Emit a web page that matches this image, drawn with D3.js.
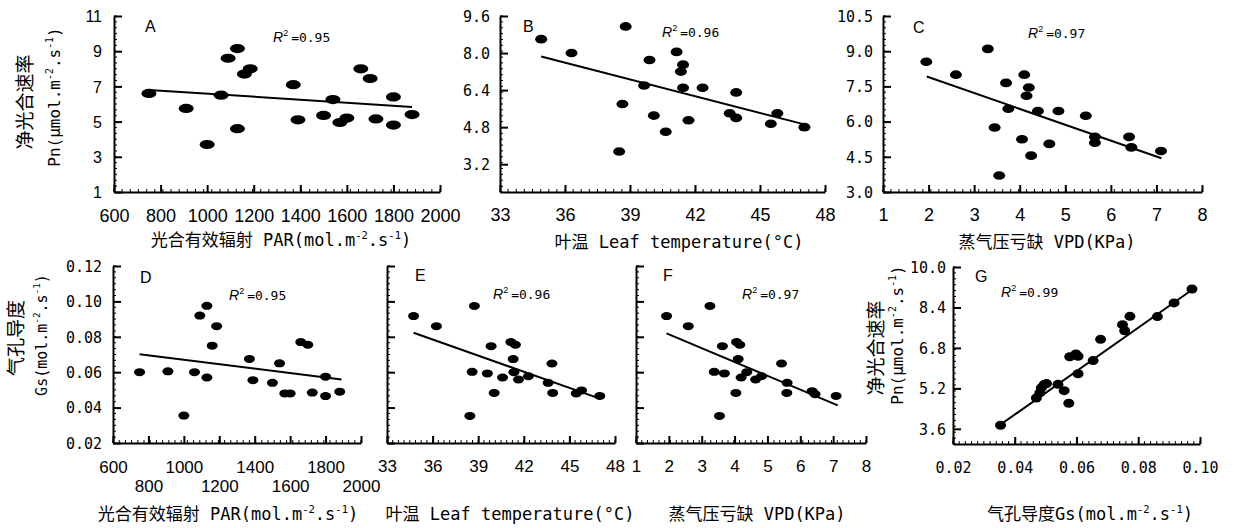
<!DOCTYPE html>
<html>
<head>
<meta charset="utf-8">
<script src="https://cdn.jsdelivr.net/npm/d3@7"></script>
<style>
  body { margin: 0; background: #fff; }
  text { fill: #000; }
</style>
</head>
<body>
<div id="chart"></div>
<script>
// values, one pair of arrays per panel

// A  PAR vs Pn
const parA = [750, 910, 1000, 1060, 1090, 1130, 1130, 1160, 1185, 1370, 1390, 1500, 1540, 1570, 1600, 1660, 1700, 1725, 1800, 1800, 1880];
const pnA  = [6.6, 5.75, 3.7, 6.5, 8.6, 9.15, 4.6, 7.7, 8.0, 7.1, 5.1, 5.35, 6.25, 4.95, 5.2, 8.0, 7.45, 5.15, 6.4, 4.8, 5.4];
// B  leaf temperature vs Pn
const tleafB = [34.9, 36.3, 38.8, 38.65, 38.5, 39.65, 39.9, 40.1, 40.65, 41.15, 41.45, 41.35, 41.45, 41.7, 42.35, 43.9, 43.6, 43.9, 45.5, 45.8, 47.05];
const pnB    = [8.6, 8.0, 9.15, 5.8, 3.75, 6.6, 7.7, 5.3, 4.6, 8.05, 7.5, 7.2, 6.5, 5.1, 6.5, 6.3, 5.4, 5.2, 4.95, 5.4, 4.8];
// C  VPD vs Pn
const vpdC = [1.95, 2.6, 3.3, 3.45, 3.55, 3.7, 3.75, 4.1, 4.05, 4.2, 4.15, 4.25, 4.4, 4.65, 4.85, 5.45, 5.65, 5.65, 6.4, 6.45, 7.1];
const pnC  = [8.55, 8.0, 9.1, 5.75, 3.7, 7.65, 6.55, 8.0, 5.25, 7.45, 7.1, 4.55, 6.45, 5.05, 6.45, 6.25, 5.35, 5.1, 5.35, 4.9, 4.75];
// D  PAR vs Gs
const parD = [750, 910, 1000, 1060, 1090, 1130, 1130, 1160, 1185, 1370, 1390, 1500, 1540, 1570, 1600, 1660, 1700, 1725, 1800, 1800, 1880];
const gsD  = [0.060, 0.0605, 0.0355, 0.060, 0.092, 0.0975, 0.057, 0.075, 0.086, 0.0675, 0.0555, 0.054, 0.065, 0.048, 0.048, 0.077, 0.0755, 0.0485, 0.0575, 0.0465, 0.049];
// E  leaf temperature vs Gs
const tleafE = [34.75, 36.25, 38.75, 38.6, 38.45, 39.6, 39.85, 40.05, 40.6, 41.15, 41.45, 41.3, 41.35, 41.65, 42.3, 43.85, 43.6, 43.9, 45.45, 45.8, 47.0];
const gsE    = [0.0917, 0.086, 0.0974, 0.0602, 0.0353, 0.0593, 0.0747, 0.0483, 0.057, 0.077, 0.0755, 0.0674, 0.060, 0.0559, 0.0577, 0.0649, 0.054, 0.0483, 0.048, 0.0497, 0.0466];
// F  VPD vs Gs
const vpdF = [1.93, 2.59, 3.25, 3.38, 3.54, 3.63, 3.69, 4.06, 4.16, 4.04, 4.11, 4.37, 4.2, 4.64, 4.82, 5.43, 5.6, 5.59, 6.36, 6.45, 7.09];
const gsF  = [0.0917, 0.086, 0.0974, 0.0602, 0.0353, 0.0747, 0.0593, 0.077, 0.0755, 0.0483, 0.0674, 0.060, 0.057, 0.0559, 0.0577, 0.0649, 0.054, 0.0483, 0.0493, 0.0476, 0.0466];
// G  Gs vs Pn
const gsG = [0.0354, 0.047, 0.0481, 0.0486, 0.0495, 0.0503, 0.054, 0.056, 0.0575, 0.0578, 0.0598, 0.0605, 0.0605, 0.0654, 0.0678, 0.0749, 0.0756, 0.0773, 0.0862, 0.0916, 0.0974];
const pnG = [3.74, 4.82, 5.02, 5.22, 5.35, 5.39, 5.36, 5.11, 4.61, 6.45, 6.56, 6.47, 5.78, 6.3, 7.14, 7.72, 7.48, 8.05, 8.04, 8.58, 9.13];

// fitted lines (end points)
const fitX = { A: [750, 1880], B: [34.9, 47.05], C: [1.96, 7.11], D: [750, 1890], E: [34.75, 47.0], F: [1.93, 7.14], G: [0.0346, 0.0978] };
const fitY = { A: [6.8, 5.83], B: [7.85, 4.92], C: [7.92, 4.44], D: [0.0702, 0.0559], E: [0.0823, 0.0451], F: [0.0819, 0.0413], G: [3.7, 9.13] };
const r2 = { A: "0.95", B: "0.96", C: "0.97", D: "0.95", E: "0.96", F: "0.97", G: "0.99" };

// axis ticks
const parTicks = [600, 800, 1000, 1200, 1400, 1600, 1800, 2000];
const tempTicks = [33, 36, 39, 42, 45, 48];
const vpdTicks = [1, 2, 3, 4, 5, 6, 7, 8];
const gsTicks = [0.02, 0.04, 0.06, 0.08, 0.10];
const pnTicksA = [1, 3, 5, 7, 9, 11];
const pnTicksB = [3.2, 4.8, 6.4, 8.0, 9.6];
const pnTicksC = [3.0, 4.5, 6.0, 7.5, 9.0, 10.5];
const pnTicksG = [3.6, 5.2, 6.8, 8.4, 10.0];
const gsYTicks = [0.02, 0.04, 0.06, 0.08, 0.10, 0.12];

const width = 1234, height = 528;
const monoCjk = "'DejaVu Sans Mono','Noto Sans CJK SC',sans-serif";
const sansF = "'Liberation Sans',Arial,sans-serif";
const monoF = "'DejaVu Sans Mono',monospace";

const svg = d3.select("#chart").append("svg")
  .attr("width", width).attr("height", height);

const panels = [
  { id: "A", xs: parA, ys: pnA, xd: [600, 2000], yd: [1, 11], left: 114, right: 440, top: 16, bottom: 192,
    xt: parTicks, yt: pnTicksA, xfmt: d => d, yfmt: d => d, xFont: [sansF, 18], yFont: [sansF, 16],
    xOff: 30, yOff: 12, rx: 7.5, ry: 4.6, letter: [145, 32], r2at: [273, 42] },
  { id: "B", xs: tleafB, ys: pnB, xd: [33, 48], yd: [2, 9.6], left: 500, right: 825, top: 16, bottom: 192,
    xt: tempTicks, yt: pnTicksB, xfmt: d => d, yfmt: d3.format(".1f"), xFont: [sansF, 18], yFont: [monoF, 15],
    xOff: 29, yOff: 10, rx: 6, ry: 4.3, letter: [523, 32], r2at: [662, 37] },
  { id: "C", xs: vpdC, ys: pnC, xd: [1, 8], yd: [3, 10.5], left: 883, right: 1202, top: 16, bottom: 192,
    xt: vpdTicks, yt: pnTicksC, xfmt: d => d, yfmt: d3.format(".1f"), xFont: [sansF, 18], yFont: [monoF, 15],
    xOff: 29, yOff: 10, rx: 6, ry: 4.3, letter: [913, 33], r2at: [1028, 38] },
  { id: "D", xs: parD, ys: gsD, xd: [600, 2000], yd: [0.02, 0.12], left: 113, right: 361, top: 266, bottom: 443,
    xt: parTicks, yt: gsYTicks, xfmt: d => d, yfmt: d3.format(".2f"), xFont: [sansF, 17], yFont: [monoF, 15],
    xOff: 30, yOff: 11, rx: 5.5, ry: 4, letter: [140, 283], r2at: [229, 300], stagger: 19 },
  { id: "E", xs: tleafE, ys: gsE, xd: [33, 48], yd: [0.02, 0.12], left: 387, right: 615, top: 266, bottom: 443,
    xt: tempTicks, yt: gsYTicks, xfmt: d => d, yfmt: null, xFont: [sansF, 17], yFont: [monoF, 15],
    xOff: 29, yOff: 10, rx: 5.5, ry: 4, letter: [415, 281], r2at: [493, 299] },
  { id: "F", xs: vpdF, ys: gsF, xd: [1, 8], yd: [0.02, 0.12], left: 636, right: 866, top: 266, bottom: 443,
    xt: vpdTicks, yt: gsYTicks, xfmt: d => d, yfmt: null, xFont: [sansF, 17], yFont: [monoF, 15],
    xOff: 29, yOff: 10, rx: 5.5, ry: 4, letter: [663, 281], r2at: [742, 299] },
  { id: "G", xs: gsG, ys: pnG, xd: [0.02, 0.10], yd: [3, 10], left: 953, right: 1200, top: 267, bottom: 444,
    xt: gsTicks, yt: pnTicksG, xfmt: d3.format(".2f"), yfmt: d3.format(".1f"), xFont: [monoF, 15], yFont: [monoF, 15],
    xOff: 29, yOff: 7, rx: 5.5, ry: 4.5, letter: [975, 282], r2at: [1001, 297] }
];

panels.forEach(p => {
  const x = d3.scaleLinear().domain(p.xd).range([p.left, p.right]);
  const y = d3.scaleLinear().domain(p.yd).range([p.bottom, p.top]);
  const g = svg.append("g");

  // minor ticks (the fuzzy look of the axes)
  const xMinor = d3.range(0, 41).map(i => p.xd[0] + (p.xd[1] - p.xd[0]) * i / 40);
  const yMinor = d3.range(0, 31).map(i => p.yd[0] + (p.yd[1] - p.yd[0]) * i / 30);
  g.selectAll(".mx").data(xMinor).enter().append("line")
    .attr("x1", d => x(d)).attr("x2", d => x(d))
    .attr("y1", p.bottom).attr("y2", p.bottom - 3)
    .attr("stroke", "#000").attr("stroke-width", 1);
  g.selectAll(".my").data(yMinor).enter().append("line")
    .attr("x1", p.left).attr("x2", p.left + 3)
    .attr("y1", d => y(d)).attr("y2", d => y(d))
    .attr("stroke", "#000").attr("stroke-width", 1);

  // x axis
  const xa = g.append("g").attr("transform", `translate(0,${p.bottom})`)
    .call(d3.axisBottom(x).tickValues(p.xt).tickFormat(p.xfmt).tickSizeInner(-7).tickSizeOuter(0));
  xa.selectAll("text")
    .attr("y", (d, i) => p.xOff + (p.stagger && i % 2 ? p.stagger : 0)).attr("dy", 0)
    .style("font-family", p.xFont[0]).style("font-size", p.xFont[1] + "px");

  // y axis
  const ya = g.append("g").attr("transform", `translate(${p.left},0)`)
    .call(d3.axisLeft(y).tickValues(p.yt).tickFormat(p.yfmt || (() => "")).tickSizeInner(-8).tickSizeOuter(0));
  ya.selectAll("text")
    .attr("x", -p.yOff).attr("dy", "0.35em")
    .style("font-family", p.yFont[0]).style("font-size", p.yFont[1] + "px");

  g.selectAll(".domain").attr("stroke-width", 2);
  g.selectAll(".tick line").attr("stroke-width", 2);

  // fitted line
  g.append("line")
    .attr("x1", x(fitX[p.id][0])).attr("y1", y(fitY[p.id][0]))
    .attr("x2", x(fitX[p.id][1])).attr("y2", y(fitY[p.id][1]))
    .attr("stroke", "#000").attr("stroke-width", 2);

  // points
  g.selectAll("ellipse").data(p.xs.map((v, i) => [v, p.ys[i]])).enter().append("ellipse")
    .attr("cx", d => x(d[0])).attr("cy", d => y(d[1]))
    .attr("rx", p.rx).attr("ry", p.ry).attr("fill", "#000");

  // panel letter
  g.append("text").attr("x", p.letter[0]).attr("y", p.letter[1])
    .style("font-family", sansF).style("font-size", "16px").text(p.id);

  // R^2 label
  const t = g.append("text").attr("x", p.r2at[0]).attr("y", p.r2at[1]);
  t.append("tspan").style("font-family", sansF).style("font-style", "italic").style("font-size", "14px").text("R");
  t.append("tspan").attr("dy", -6).style("font-family", sansF).style("font-size", "9px").text("2");
  t.append("tspan").attr("dy", 6).attr("dx", 3).style("font-family", monoF).style("font-size", "13px").text("=" + r2[p.id]);
});

// text with superscripts: parts = [[text, isSup], ...]
function richText(sel, parts, size) {
  let up = false;
  parts.forEach(([s, sup]) => {
    const ts = sel.append("tspan").text(s);
    if (sup) { ts.attr("dy", up ? 0 : -7).style("font-size", (size * 0.62) + "px"); up = true; }
    else { if (up) ts.attr("dy", 7); up = false; ts.style("font-size", size + "px"); }
  });
  return sel;
}

const parTitle = [["光合有效辐射 PAR(mol.m", 0], ["-2", 1], [".s", 0], ["-1", 1], [")", 0]];
const tempTitle = [["叶温 Leaf temperature(°C)", 0]];
const vpdTitle = [["蒸气压亏缺 VPD(KPa)", 0]];
const gsTitle = [["气孔导度Gs(mol.m", 0], ["-2", 1], [".s", 0], ["-1", 1], [")", 0]];
const pnUnit = [["Pn(μmol.m", 0], ["-2", 1], [".s", 0], ["-1", 1], [")", 0]];
const gsUnit = [["Gs(mol.m", 0], ["-2", 1], [".s", 0], ["-1", 1], [")", 0]];

const xTitles = [
  [parTitle, 281, 246], [tempTitle, 679, 248], [vpdTitle, 1047, 248],
  [parTitle, 228, 520], [tempTitle, 510, 520], [vpdTitle, 757, 520], [gsTitle, 1090, 520]
];
xTitles.forEach(([parts, cx, by]) => {
  richText(svg.append("text").attr("x", cx).attr("y", by).attr("text-anchor", "middle")
    .style("font-family", monoCjk), parts, 17);
});

const yTitles = [
  [[["净光合速率", 0]], 32, 102, 19], [pnUnit, 60, 97, 16],
  [[["气孔导度", 0]], 23, 338, 19], [gsUnit, 47, 335, 15],
  [[["净光合速率", 0]], 883, 348, 19], [pnUnit, 903, 335, 16]
];
yTitles.forEach(([parts, bx, cy, fs]) => {
  richText(svg.append("text").attr("transform", `translate(${bx},${cy}) rotate(-90)`)
    .attr("text-anchor", "middle").style("font-family", monoCjk), parts, fs);
});
</script>
</body>
</html>
